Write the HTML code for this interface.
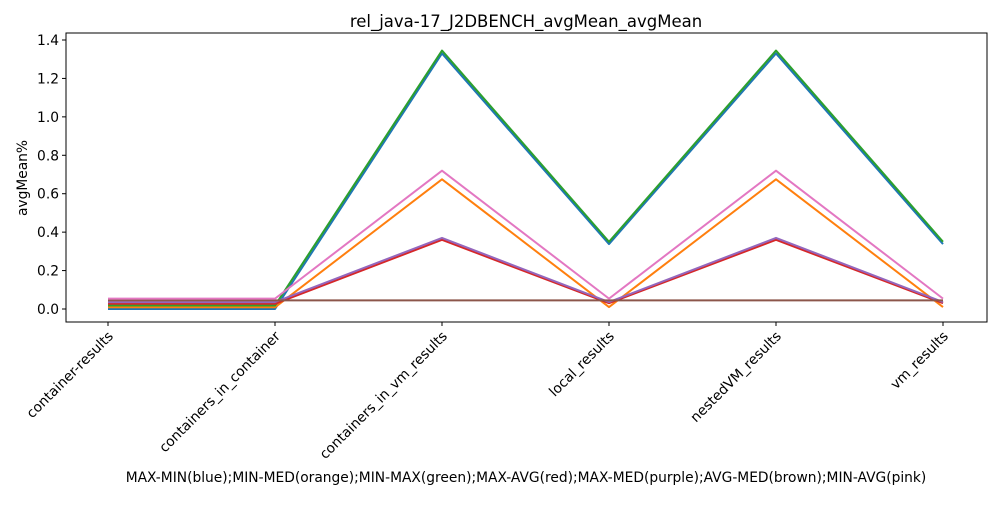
<!DOCTYPE html>
<html><head><meta charset="utf-8"><style>
body{margin:0;background:#fff;}
svg text{font-family:"DejaVu Sans","Liberation Sans",sans-serif;fill:#000;}
</style></head><body>
<svg id="chart" width="1000" height="500" viewBox="0 0 1000 500" xmlns="http://www.w3.org/2000/svg">
<text x="526" y="27" font-size="16.5" text-anchor="middle">rel_java-17_J2DBENCH_avgMean_avgMean</text>
<g id="plot"></g>
<text transform="translate(27,178) rotate(-90)" font-size="13.8" text-anchor="middle">avgMean%</text>
<text x="526" y="482" font-size="13.8" text-anchor="middle">MAX-MIN(blue);MIN-MED(orange);MIN-MAX(green);MAX-AVG(red);MAX-MED(purple);AVG-MED(brown);MIN-AVG(pink)</text>
</svg>
<script>
const categories=["container-results","containers_in_container","containers_in_vm_results","local_results","nestedVM_results","vm_results"];
const seriesNames=["MAX-MIN","MIN-MED","MIN-MAX","MAX-AVG","MAX-MED","AVG-MED","MIN-AVG"];
const blue=[0.0,0.0,1.33,0.338,1.33,0.338];
const orange=[0.009,0.009,0.675,0.01,0.675,0.01];
const green=[0.018,0.018,1.345,0.35,1.345,0.35];
const red=[0.027,0.027,0.36,0.03,0.36,0.03];
const purple=[0.036,0.036,0.37,0.036,0.37,0.036];
const brown=[0.045,0.045,0.045,0.045,0.045,0.045];
const pink=[0.054,0.054,0.72,0.054,0.72,0.054];
const yTicks=[0.0,0.2,0.4,0.6,0.8,1.0,1.2,1.4];
const yTickLabels=["0.0","0.2","0.4","0.6","0.8","1.0","1.2","1.4"];
const series=[blue,orange,green,red,purple,brown,pink];
const colors=["#1f77b4","#ff7f0e","#2ca02c","#d62728","#9467bd","#8c564b","#e377c2"];
const L=66,R=987,T=33,B=322;
const x=i=>108+i*(943-108)/(categories.length-1);
const y=v=>309-v*(309-40)/1.4;
const NS="http://www.w3.org/2000/svg";
const g=document.getElementById('plot');
function mk(t,a){const e=document.createElementNS(NS,t);for(const k in a)e.setAttribute(k,a[k]);g.appendChild(e);return e;}
series.forEach((s,si)=>{
  const p=mk('polyline',{points:s.map((v,i)=>x(i)+','+y(v)).join(' '),fill:'none',stroke:colors[si],'stroke-width':2,'stroke-linejoin':'round'});
  
  
});
const fr=mk('rect',{x:L,y:T,width:R-L,height:B-T,fill:'none',stroke:'#000','stroke-width':1});


yTicks.forEach((v,i)=>{
  const tk=mk('line',{x1:L-4,x2:L,y1:y(v),y2:y(v),stroke:'#000','stroke-width':1});
  
  
  const t=mk('text',{x:L-7,y:y(v)+5,'font-size':13.8,'text-anchor':'end'});
  t.textContent=yTickLabels[i];
  
  
});
categories.forEach((c,i)=>{
  const tk=mk('line',{x1:x(i),x2:x(i),y1:B,y2:B+4,stroke:'#000','stroke-width':1});
  
  
  const t=mk('text',{x:0,y:0,'font-size':13.8,'text-anchor':'end',transform:`translate(${x(i)+6},${B+15}) rotate(-45)`});
  t.textContent=c;
  
  
});
</script>
</body></html>
